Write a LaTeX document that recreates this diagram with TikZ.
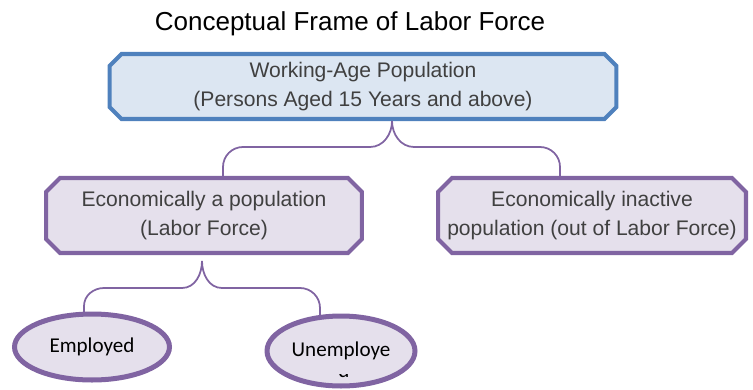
\documentclass[tikz,border=0pt]{standalone}
\usepackage{fontspec}
\setmainfont{Liberation Sans}
\newfontfamily\calibri{Carlito}
\usepackage{tikz}
\usepackage{tkz-euclide}
\usepackage{xcolor}
\usetikzlibrary{shapes.misc,shapes.geometric}

\definecolor{wapblue}{HTML}{4F81BD}
\definecolor{wapfill}{HTML}{DCE6F2}
\definecolor{lfpurple}{HTML}{8064A2}
\definecolor{lffill}{HTML}{E5E0EC}
\definecolor{lftext}{HTML}{404040}

\tikzset{
    chambox/.style={chamfered rectangle,line width=2.3pt,inner sep=0pt,
        text=lftext,align=center,font=\fontsize{12}{16.5}\selectfont},
    wapbox/.style={chambox,draw=wapblue,fill=wapfill,
        chamfered rectangle xsep=0.12cm,chamfered rectangle ysep=0.12cm,
        minimum width=10.14cm,minimum height=1.3cm},
    lfbox/.style={chambox,draw=lfpurple,fill=lffill,
        chamfered rectangle xsep=0.13cm,chamfered rectangle ysep=0.15cm,
        minimum height=1.5cm,font=\fontsize{12}{17}\selectfont},
    oval/.style={ellipse,draw=lfpurple,fill=lffill,line width=2.85pt,inner sep=0pt,
        font={\calibri\fontsize{12}{15}\selectfont}},
    brace/.style={draw=lfpurple,line width=1pt}
}

\begin{document}
\begin{tikzpicture}[x=0.02cm,y=-0.02cm]
    \useasboundingbox (0,0) rectangle (753,389);
    \clip (0,0) rectangle (753,389);
    % centres
    \tkzDefPoints{350/24/T,363/86.5/W,204/215.5/A,592/215.5/I,92/347/E,341/351/U}
    % ends of the braces
    \tkzDefPoints{392/121/wt,223/176/al,560/176/ar,202/261/at,84/313/el,320/315/ur}

    \node[font=\fontsize{14.8}{18}\selectfont] (title) at (T) {Conceptual Frame of Labor Force};
    \node[wapbox] (wap) at (W) {Working-Age Population\\(Persons Aged 15 Years and above)};
    \node[lfbox,minimum width=6.32cm] (active) at (A) {Economically a population\\(Labor Force)};
    \node[lfbox,minimum width=6.16cm] (inactive) at (I) {Economically inactive\\population (out of Labor Force)};
    \node[oval,minimum width=3.1cm,minimum height=1.32cm] (emp) at (E) {Employed};
    \node[oval,minimum width=2.96cm,minimum height=1.4cm] (unemp) at (U) {Unemploye};
    \begin{scope}
        \clip (330,374.5) rectangle (356,381);
        \node[anchor=base,font={\calibri\fontsize{12}{15}\selectfont}] (unempd) at (344,377) {d};
    \end{scope}

    % braces
    \draw[brace] (al) -- (223,167) to[out=90,in=180] (243,147) -- (370,147)
        to[out=0,in=-90] (wt) to[out=-90,in=180] (414,147) -- (540,147)
        to[out=0,in=90] (560,167) -- (ar);
    \draw[brace] (el) -- (84,306) to[out=90,in=180] (104,288) -- (182,288)
        to[out=0,in=-90] (at) to[out=-90,in=180] (222,288) -- (300,288)
        to[out=0,in=90] (320,308) -- (ur);
\end{tikzpicture}
\end{document}
